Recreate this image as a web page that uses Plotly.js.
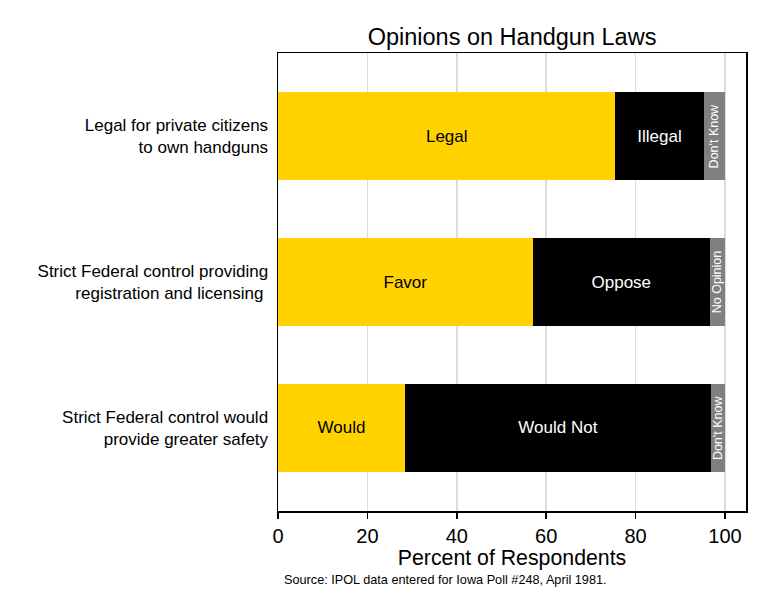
<!DOCTYPE html>
<html>
<head>
<meta charset="utf-8">
<script src="https://cdn.plot.ly/plotly-3.0.1.min.js"></script>
<style>
  html, body { margin: 0; padding: 0; background: #fff; }
  #chart { width: 768px; height: 615px; }
</style>
</head>
<body>
<div id="chart"></div>
<script>
// Questions (top to bottom) and the stacked response shares
var questions = [
    'Legal for private citizens<br>to own handguns',
    'Strict Federal control providing<br>registration and licensing ',
    'Strict Federal control would<br>provide greater safety'
];
var firstValues  = [75.5, 57.0, 28.4];
var secondValues = [19.7, 39.6, 68.5];
var thirdValues  = [4.8, 3.4, 3.1];

var firstLabels  = ['Legal', 'Favor', 'Would'];
var secondLabels = ['Illegal', 'Oppose', 'Would Not'];
var thirdLabels  = ["Don't Know", 'No Opinion', "Don't Know"];

var rowIndex = questions.map(function (q, i) { return i; });

function segment(values, labels, color, textColor, size, angle) {
    return {
        type: 'bar',
        orientation: 'h',
        x: values,
        y: rowIndex,
        text: labels,
        textposition: 'inside',
        insidetextanchor: 'middle',
        textangle: angle,
        textfont: { color: textColor, size: size, family: 'Liberation Sans, Arial, sans-serif' },
        constraintext: 'none',
        marker: { color: color, line: { width: 0 } },
        width: 0.6,
        hoverinfo: 'none'
    };
}

var data = [
    segment(firstValues, firstLabels, '#FFD200', '#000000', 17, 0),
    segment(secondValues, secondLabels, '#000000', '#FFFFFF', 17, 0),
    segment(thirdValues, thirdLabels, '#808080', '#FFFFFF', 12.5, -90)
];

var layout = {
    width: 768,
    height: 615,
    barmode: 'stack',
    showlegend: false,
    paper_bgcolor: '#FFFFFF',
    plot_bgcolor: '#FFFFFF',
    margin: { l: 278, r: 22, t: 53, b: 104, pad: 0 },
    font: { family: 'Liberation Sans, Arial, sans-serif', color: '#000000' },
    title: {
        text: 'Opinions on Handgun Laws',
        font: { size: 23.5, color: '#000000' },
        x: 0.6667, xanchor: 'center',
        y: 0.94, yanchor: 'middle'
    },
    xaxis: {
        range: [0, 104.7],
        tickvals: [0, 20, 40, 60, 80, 100],
        ticks: 'outside',
        ticklen: 6,
        tickwidth: 1.5,
        tickcolor: '#000000',
        tickfont: { size: 20 },
        showgrid: true,
        gridcolor: '#DCDCDC',
        gridwidth: 1.5,
        zeroline: false,
        showline: true,
        linecolor: '#000000',
        linewidth: 1.5,
        mirror: true,
        title: { text: 'Percent of Respondents', font: { size: 21.3 }, standoff: 0 },
        fixedrange: true
    },
    yaxis: {
        range: [2.57, -0.57],
        tickvals: rowIndex,
        ticktext: questions,
        ticks: '',
        tickfont: { size: 17 },
        ticklabelstandoff: 5,
        showgrid: false,
        zeroline: false,
        showline: true,
        linecolor: '#000000',
        linewidth: 1.5,
        mirror: true,
        fixedrange: true
    },
    annotations: [{
        text: 'Source: IPOL data entered for Iowa Poll #248, April 1981.',
        xref: 'paper', yref: 'paper',
        x: 0.0085, y: -0.151,
        xanchor: 'left', yanchor: 'middle',
        showarrow: false,
        font: { size: 12.7, color: '#000000' }
    }]
};

Plotly.newPlot('chart', data, layout, { staticPlot: true });
</script>
</body>
</html>
